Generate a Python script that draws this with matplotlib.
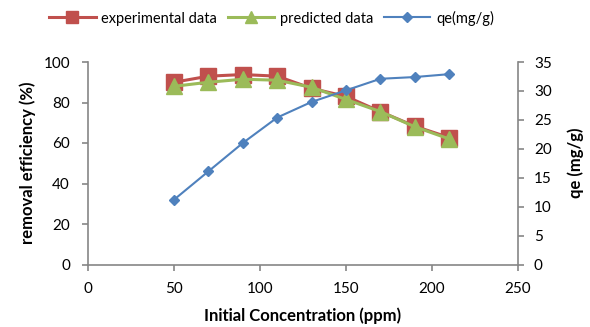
import matplotlib
matplotlib.use("Agg")
import matplotlib.pyplot as plt
from matplotlib.lines import Line2D

plt.rcParams['font.family'] = ['Lato', 'DejaVu Sans']

conc = [50, 70, 90, 110, 130, 150, 170, 190, 210]
experimental = [90, 93, 93.8, 93, 87, 83, 75.5, 68.3, 62.7]
predicted = [88, 90, 91.5, 91, 87.5, 81.5, 75.5, 68, 62]
qe = [11.2, 16.1, 21.0, 25.4, 28.1, 30.1, 32.1, 32.4, 32.9]

red = '#C0504D'
green = '#9BBB59'
blue = '#4F81BD'
axis_col = '#868686'

fig = plt.figure(figsize=(5.9, 3.27), dpi=100)
ax = fig.add_axes([88/590, 1-264.5/327, 430/590, 202.5/327])
ax2 = ax.twinx()

ax.plot(conc, experimental, color=red, lw=2.2, marker='s', ms=11,
        mfc=red, mec=red, label='experimental data', zorder=3)
ax.plot(conc, predicted, color=green, lw=2.2, marker='^', ms=11,
        mfc=green, mec=green, label='predicted data', zorder=4)
ax2.plot(conc, qe, color=blue, lw=1.5, marker='D', ms=5.5,
         mfc=blue, mec=blue, label='qe(mg/g)')

ax.set_xlim(0, 250)
ax.set_ylim(0, 100)
ax2.set_ylim(0, 35)
ax.set_xticks(range(0, 251, 50))
ax.set_yticks(range(0, 101, 20))
ax2.set_yticks(range(0, 36, 5))

for a in (ax, ax2):
    a.spines['top'].set_visible(False)
    for s in ('left', 'right', 'bottom'):
        a.spines[s].set_color(axis_col)
        a.spines[s].set_linewidth(1.2)
    a.tick_params(colors=axis_col, labelcolor='black', labelsize=11,
                  direction='out', length=4, width=1.2)
ax.spines['right'].set_visible(False)
ax2.spines['left'].set_visible(False)
ax2.spines['bottom'].set_visible(False)
ax.tick_params(axis='y', pad=9)
ax.tick_params(axis='x', pad=8.5)
ax2.tick_params(axis='y', pad=7.5)

ax.set_xlabel('Initial Concentration (ppm)', fontsize=12, fontweight='bold', labelpad=8)
ax.set_ylabel('removal efficiency (%)', fontsize=12, fontweight='bold', labelpad=5)
ax2.set_ylabel('qe (mg/g)', fontsize=12, fontweight='bold', labelpad=11)

handles = [
    Line2D([], [], color=red, lw=2.2, marker='s', ms=9, mfc=red, mec=red),
    Line2D([], [], color=green, lw=2.2, marker='^', ms=9, mfc=green, mec=green),
    Line2D([], [], color=blue, lw=1.5, marker='D', ms=5, mfc=blue, mec=blue),
]
fig.legend(handles, ['experimental data', 'predicted data', 'qe(mg/g)'],
           loc='center', bbox_to_anchor=(271.5/590, 1-18/327), ncol=3, frameon=False,
           fontsize=10.5, handlelength=3.2, columnspacing=0.7, handletextpad=0.4,
           borderpad=0, borderaxespad=0)

fig.savefig('out.png', dpi=100)
